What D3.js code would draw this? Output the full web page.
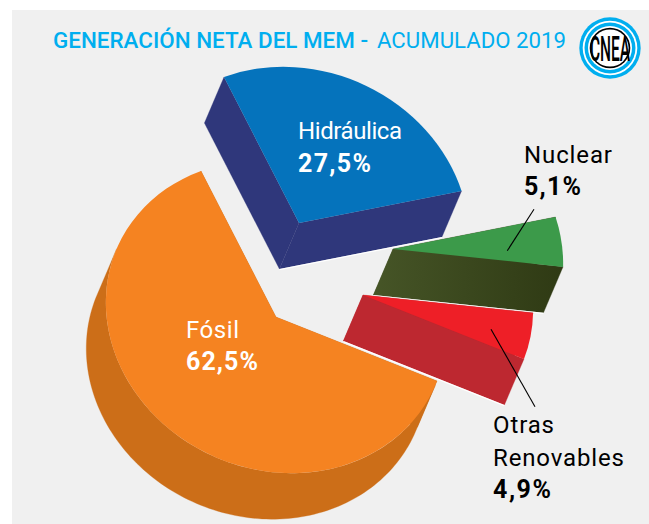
<!DOCTYPE html>
<html><head><meta charset="utf-8">
<script src="https://cdn.jsdelivr.net/npm/d3@7/dist/d3.min.js"></script>
<style>html,body{margin:0;padding:0;background:#fff}svg{display:block}text{font-family:"Roboto","Open Sans",sans-serif}</style>
</head><body><div id="c"></div>
<script>
const categories = ["Hidráulica","Nuclear","Otras Renovables","Fósil"];
const values = [27.5,5.1,4.9,62.5];
const valueLabels = ["27,5%","5,1%","4,9%","62,5%"];
const topColors = ["#0573bc","#3c9a4a","#ee1f27","#f58321"];
const sideColors = ["#2f377b","url(#nucSide)","#bd2830","#cc6e18"];
const title = ["GENERACIÓN NETA DEL MEM -","ACUMULADO 2019"];

const W=649,H=524;
const svg=d3.select("#c").append("svg").attr("width",W).attr("height",H);
svg.append("rect").attr("x",12).attr("y",10).attr("width",W-12).attr("height",H-10).attr("fill","#f0f0f0");

const defs=svg.append("defs");
const grad=defs.append("linearGradient").attr("id","nucSide").attr("gradientUnits","userSpaceOnUse")
  .attr("x1",373).attr("x2",562).attr("y1",0).attr("y2",0);
grad.append("stop").attr("offset",0).attr("stop-color","#465527");
grad.append("stop").attr("offset",1).attr("stop-color","#2f3a14");

// sheared disc: unit circle -> screen
const M=[152.7,-55.5,75,146];
const depth=[-19.6,46];
const centers=[[299,223],[393,249],[363,295],[276,317]];
const pts=(cx,cy,th,off)=>{const x=Math.sin(th),y=-Math.cos(th);
  return [cx+M[0]*x+M[2]*y+(off?depth[0]:0), cy+M[1]*x+M[3]*y+(off?depth[1]:0)];};
const slices=d3.pie().value(d=>d).sort(null).startAngle(0).endAngle(2*Math.PI)(values);
const arc=d3.arc().innerRadius(0).outerRadius(1);
const det=M[0]*M[3]-M[1]*M[2];
const w=[(M[3]*depth[0]-M[2]*depth[1])/det,(-M[1]*depth[0]+M[0]*depth[1])/det];
const mid=Math.atan2(w[0],-w[1]);
const vis0=((mid-Math.PI/2)%(2*Math.PI)+2*Math.PI)%(2*Math.PI);
const vis1=vis0+Math.PI;

slices.forEach((s,i)=>{
  const [cx,cy]=centers[i];
  const g=svg.append("g");
  const side=sideColors[i];
  const poly=p=>g.append("path").attr("d",d3.line()(p)+"Z").attr("fill",side).attr("stroke",side).attr("stroke-width",.3);
  [s.startAngle,s.endAngle].forEach(t=>{
    poly([[cx,cy],pts(cx,cy,t),pts(cx,cy,t,1),[cx+depth[0],cy+depth[1]]]);
  });
  const a=Math.max(s.startAngle,vis0),b=Math.min(s.endAngle,vis1);
  if(b>a){
    const ts=d3.range(0,121).map(k=>a+(b-a)*k/120);
    poly(ts.map(t=>pts(cx,cy,t)).concat(ts.slice().reverse().map(t=>pts(cx,cy,t,1))));
  }
  if(i<3){
    const e=pts(cx,cy,s.endAngle,1);
    g.append("line").attr("x1",cx+depth[0]).attr("y1",cy+depth[1]+.6)
      .attr("x2",e[0]).attr("y2",e[1]+.6)
      .attr("stroke","#fff").attr("stroke-width",1.2);
  }
  g.append("path").attr("transform",`matrix(${M[0]},${M[1]},${M[2]},${M[3]},${cx},${cy})`)
    .attr("d",arc({startAngle:s.startAngle,endAngle:s.endAngle}))
    .attr("fill",topColors[i]);
});

const leaders=[[[507.3,250.7],[534,209.3]],[[491,329.3],[535,406.7]]];
leaders.forEach(l=>svg.append("line").attr("x1",l[0][0]).attr("y1",l[0][1]).attr("x2",l[1][0]).attr("y2",l[1][1]).attr("stroke","#000").attr("stroke-width",1.1));

// title
svg.append("text").attr("x",53).attr("y",48).attr("font-size",22.5).attr("font-weight",500).attr("fill","#00aeef")
  .attr("textLength",315).attr("lengthAdjust","spacingAndGlyphs").text(title[0]);
svg.append("text").attr("x",377).attr("y",48).attr("font-size",22.5).attr("font-weight",400).attr("fill","#00aeef")
  .attr("textLength",189).attr("lengthAdjust","spacingAndGlyphs").text(title[1]);

// labels: x, baseline, text, colour, bold, width
const lab=(x,y,txt,col,bold,len)=>svg.append("text").attr("x",x).attr("y",y).attr("fill",col)
  .attr("font-size",bold?25:24).attr("font-weight",bold?700:400)
  .attr("textLength",len).attr("lengthAdjust","spacing").text(txt);
lab(298,139,categories[0],"#fff",0,104); lab(298,172,valueLabels[0],"#fff",1,73);
lab(186,338,categories[3],"#fff",0,53);  lab(186,370,valueLabels[3],"#fff",1,72);
lab(524,163,categories[1],"#000",0,88);  lab(524,195,valueLabels[1],"#000",1,57);
lab(493,433,"Otras","#000",0,61); lab(493,466,"Renovables","#000",0,131); lab(493,498,valueLabels[2],"#000",1,58);

// emblem
const logo=svg.append("g").attr("transform","translate(610,48)");
[[30.7,"#00aeef"],[27.3,"#fff"],[25.5,"#00aeef"],[22,"#fff"],[20.3,"#000"],[18.6,"#fff"]].forEach(r=>
  logo.append("circle").attr("r",r[0]).attr("fill",r[1]));
logo.append("text").attr("transform","translate(0,13) scale(0.43,1)").attr("text-anchor","middle")
  .attr("font-size",36).attr("font-weight",500).attr("fill","#000").text("CNEA");
</script></body></html>
